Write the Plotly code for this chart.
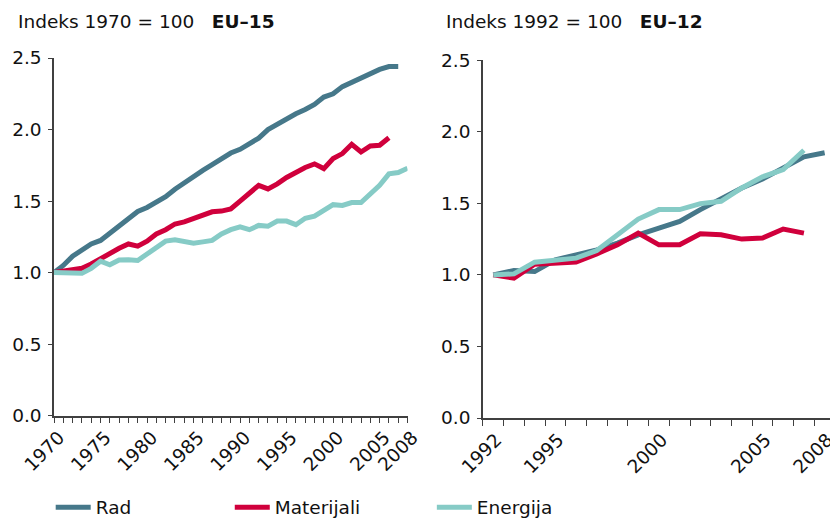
import plotly.graph_objects as go

# ---- data ----
years_eu15 = list(range(1970, 2009))
rad_eu15 = [1.00, 1.05, 1.115, 1.16, 1.20, 1.225, 1.275, 1.32, 1.375, 1.427,
            1.455, 1.488, 1.53, 1.583, 1.63, 1.674, 1.715, 1.755, 1.795, 1.836,
            1.862, 1.90, 1.94, 2.00, 2.04, 2.073, 2.11, 2.14, 2.176, 2.227,
            2.25, 2.30, 2.33, 2.36, 2.385, 2.42, 2.44, 2.44]
mat_eu15 = [1.00, 1.01, 1.02, 1.03, 1.06, 1.10, 1.13, 1.17, 1.20, 1.185,
            1.22, 1.27, 1.30, 1.34, 1.355, 1.38, 1.40, 1.425, 1.43, 1.445,
            1.50, 1.55, 1.61, 1.585, 1.62, 1.665, 1.70, 1.735, 1.76, 1.727,
            1.797, 1.832, 1.897, 1.843, 1.885, 1.89, 1.943]
ene_eu15 = [1.00, 1.00, 1.00, 0.995, 1.03, 1.08, 1.055, 1.088, 1.09, 1.085,
            1.13, 1.175, 1.22, 1.23, 1.22, 1.205, 1.215, 1.225, 1.27, 1.30,
            1.32, 1.30, 1.33, 1.325, 1.36, 1.36, 1.335, 1.38, 1.395, 1.435,
            1.475, 1.47, 1.49, 1.49, 1.55, 1.61, 1.69, 1.70, 1.73]

years_eu12 = list(range(1992, 2009))
rad_eu12 = [1.0, 1.03, 1.023, 1.105, 1.14, 1.175, 1.222, 1.28, 1.327, 1.374,
            1.456, 1.53, 1.607, 1.67, 1.748, 1.825, 1.853]
mat_eu12 = [1.0, 0.977, 1.075, 1.082, 1.089, 1.147, 1.21, 1.292, 1.21, 1.21,
            1.287, 1.28, 1.25, 1.257, 1.32, 1.292]
ene_eu12 = [1.0, 1.007, 1.089, 1.10, 1.117, 1.17, 1.28, 1.39, 1.456, 1.456,
            1.498, 1.514, 1.607, 1.685, 1.736, 1.871]

series_names = ["Rad", "Materijali", "Energija"]
colors = ["#46788A", "#D0003C", "#86CBC6"]

left_ticks = [1970, 1975, 1980, 1985, 1990, 1995, 2000, 2005, 2008]
right_ticks = [1992, 1995, 2000, 2005, 2008]
y_ticks = [0.0, 0.5, 1.0, 1.5, 2.0, 2.5]

title_left = "Indeks 1970 = 100\u00a0\u00a0\u00a0<b>EU\u201315</b>"
title_right = "Indeks 1992 = 100\u00a0\u00a0\u00a0<b>EU\u201312</b>"

FONT = "DejaVu Sans"
FS = 18.5
OFF = 8  # page body margin
W, H = 838 - OFF, 519 - OFF
# target screen positions (page px)
plot_left, plot_right, plot_top, plot_bottom = 54.3, 835, 58.3, 418.3
ml = plot_left - OFF
mr = 838 - plot_right
mt = plot_top - OFF
mb = H - (plot_bottom - OFF)
pw = W - ml - mr
ph = H - mt - mb

def px_x(p):
    return (p - plot_left) / pw

def px_y(p):
    return (plot_bottom - p) / ph

fig = go.Figure()

left_data = [rad_eu15, mat_eu15, ene_eu15]
right_data = [rad_eu12, mat_eu12, ene_eu12]
legends = ["legend", "legend2", "legend3"]

for i, (name, col) in enumerate(zip(series_names, colors)):
    ys = left_data[i]
    fig.add_trace(go.Scatter(x=years_eu15[:len(ys)], y=ys, mode="lines", name=name,
                             line=dict(color=col, width=5), xaxis="x", yaxis="y",
                             legend=legends[i], showlegend=True))
for i, (name, col) in enumerate(zip(series_names, colors)):
    ys = right_data[i]
    fig.add_trace(go.Scatter(x=years_eu12[:len(ys)], y=ys, mode="lines", name=name,
                             line=dict(color=col, width=5), xaxis="x2", yaxis="y2",
                             showlegend=False))

axis_color = "#404040"
tickfont = dict(family=FONT, size=FS, color="#111111")

common_y = dict(range=[0, 2.5], tickvals=y_ticks, tickformat=".1f", ticks="outside",
                ticklen=4, tickcolor=axis_color, showline=True, linecolor=axis_color,
                linewidth=1.5, showgrid=False, zeroline=False, tickfont=tickfont,
                ticklabelstandoff=3, automargin=False)

fig.update_layout(
    width=W, height=H,
    margin=dict(l=ml, r=mr, t=mt, b=mb, autoexpand=False),
    paper_bgcolor="white", plot_bgcolor="white",
    font=dict(family=FONT, size=FS, color="#111111"),
    xaxis=dict(domain=[0, px_x(407.7)], range=[1970, 2008], tickvals=left_ticks,
               ticktext=[str(t) for t in left_ticks], tickangle=-45, ticks="outside",
               ticklen=6, tickcolor=axis_color, showline=True, linecolor=axis_color,
               linewidth=1.5, showgrid=False, zeroline=False, tickfont=tickfont,
               ticklabelshift=5, ticklabelstandoff=-4, ticklabeloverflow="allow",
               minor=dict(dtick=1, tick0=1970, ticks="outside", ticklen=6,
                          tickcolor=axis_color, showgrid=False),
               anchor="y", automargin=False),
    yaxis=dict(domain=[px_y(416), 1], anchor="x", **common_y),
    xaxis2=dict(domain=[px_x(483), 1], range=[1991.5, 2008.5], tickvals=right_ticks,
                ticktext=[str(t) for t in right_ticks], tickangle=-45, ticks="",
                showline=True, linecolor=axis_color, linewidth=1.5, showgrid=False,
                zeroline=False, tickfont=tickfont,
                ticklabelshift=3, ticklabelstandoff=2, ticklabeloverflow="allow",
                minor=dict(tickvals=[y - 0.5 for y in years_eu12] + [2008.5],
                           ticks="outside", ticklen=6, tickcolor=axis_color,
                           showgrid=False),
                anchor="y2", automargin=False),
    yaxis2=dict(domain=[0, px_y(60.5)], anchor="x2", **common_y),
    annotations=[
        dict(text=title_left, xref="paper", yref="paper", x=px_x(16), y=px_y(21.5),
             xanchor="left", yanchor="middle", showarrow=False,
             font=dict(family=FONT, size=FS, color="#111111")),
        dict(text=title_right, xref="paper", yref="paper", x=px_x(444), y=px_y(21.5),
             xanchor="left", yanchor="middle", showarrow=False,
             font=dict(family=FONT, size=FS, color="#111111")),
    ],
)

leg_common = dict(orientation="h", yanchor="middle", xanchor="left",
                  font=dict(family=FONT, size=18.5, color="#111111"),
                  bgcolor="rgba(0,0,0,0)", itemwidth=35)
fig.update_layout(
    legend=dict(x=px_x(51), y=px_y(508), **leg_common),
    legend2=dict(x=px_x(230), y=px_y(508), **leg_common),
    legend3=dict(x=px_x(432), y=px_y(508), **leg_common),
)

fig.write_html("out.html")
